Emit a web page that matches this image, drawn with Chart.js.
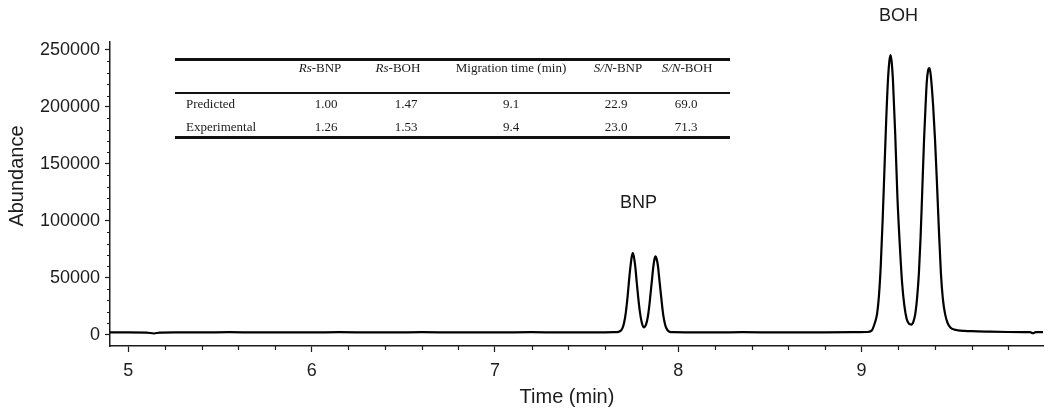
<!DOCTYPE html>
<html>
<head>
<meta charset="utf-8">
<script src="https://cdn.jsdelivr.net/npm/chart.js@4/dist/chart.umd.min.js"></script>
<style>
html, body { margin: 0; padding: 0; background: #fff; }
#wrap { position: relative; width: 1050px; height: 416px; }
#tbl { position: absolute; left: 0; top: 0; font-family: "Liberation Serif", "Times New Roman", serif; font-size: 13px; color: #1a1a1a; }
.rule { position: absolute; background: #111; }
.cell { position: absolute; white-space: nowrap; transform: translate(-50%, -50%); }
.lab { position: absolute; white-space: nowrap; transform: translateY(-50%); }
</style>
</head>
<body>
<div id="wrap">
  <canvas id="chart" width="1050" height="416"></canvas>
  <div id="tbl"></div>
</div>
<script>
// electropherogram trace
const times = [
  4.90, 5.00, 5.10, 5.14, 5.17, 5.25, 5.40, 5.55, 5.70, 5.85, 6.00, 6.15, 6.30, 6.45, 6.60, 6.75,
  6.90, 7.05, 7.20, 7.35, 7.50, 7.60, 7.650, 7.674, 7.689, 7.697, 7.704, 7.714, 7.724, 7.731,
  7.739, 7.746, 7.752, 7.758, 7.766, 7.773, 7.781, 7.791, 7.801, 7.812, 7.824, 7.834, 7.842,
  7.849, 7.857, 7.864, 7.870, 7.876, 7.882, 7.889, 7.896, 7.904, 7.912, 7.919, 7.927, 7.934,
  7.949, 7.975, 8.05, 8.20, 8.35, 8.50, 8.65, 8.80, 8.95, 9.03, 9.055, 9.072, 9.085, 9.095,
  9.105, 9.115, 9.125, 9.135, 9.145, 9.152, 9.158, 9.164, 9.171, 9.184, 9.196, 9.209, 9.221,
  9.234, 9.246, 9.259, 9.271, 9.283, 9.293, 9.303, 9.313, 9.322, 9.331, 9.341, 9.349, 9.356,
  9.363, 9.369, 9.375, 9.381, 9.391, 9.401, 9.411, 9.421, 9.433, 9.444, 9.456, 9.470, 9.486,
  9.505, 9.526, 9.56, 9.60, 9.70, 9.80, 9.88, 9.92, 9.935, 9.95, 9.99
];
const abundance = [
  1900, 1900, 1800, 1000, 1800, 2000, 1900, 2100, 1900, 2000, 1900, 2100, 2000, 1900, 2100, 2000,
  1900, 2000, 2100, 1900, 2000, 2000, 2100, 2400, 3900, 6200, 9900, 19400, 33800, 46500,
  59200, 68000, 71600, 68500, 59200, 47000, 33800, 19700, 10600, 6400, 8800, 15500, 25000,
  36000, 48500, 59500, 66000, 68700, 66500, 60700, 50000, 37600, 25500, 16400, 9800, 6000,
  2800, 2100, 2000, 1900, 2100, 2000, 1900, 2000, 2100, 2300, 3500, 10000, 18500, 34000,
  61000, 100000, 145000, 190000, 226000, 240500, 245600, 240000, 225000, 175000, 120000, 78000, 46000,
  25000, 14000, 9500, 8800, 11500, 18000, 32000, 54000, 85000, 125000, 171000, 200000, 222000,
  232000, 234000, 231000, 222000, 200000, 171000, 135000, 96000, 54000, 31000, 18000, 10000, 6000,
  4500, 3800, 3300, 3000, 2600, 2300, 2200, 2100, 1300, 2100, 2100
];

const xTicks = [5, 6, 7, 8, 9];
const yTicks = [0, 50000, 100000, 150000, 200000, 250000];

const peakNames = ["BNP", "BOH"];
const peakNameTime = [7.783, 9.202];
const peakNameValue = [116000, 280000];

// inset table
const tableHead = [["Rs", "-BNP"], ["Rs", "-BOH"], ["", "Migration time (min)"], ["S/N", "-BNP"], ["S/N", "-BOH"]];
const rowNames = ["Predicted", "Experimental"];
const predicted = ["1.00", "1.47", "9.1", "22.9", "69.0"];
const experimental = ["1.26", "1.53", "9.4", "23.0", "71.3"];

// build the table overlay
const tbl = document.getElementById("tbl");
const headX = [320, 398, 511, 618, 687];
const valX = [326, 406, 511, 616, 686];
const rowY = [104, 127];
function addRule(top, h) {
  const d = document.createElement("div");
  d.className = "rule";
  d.style.left = "175px"; d.style.width = "555px";
  d.style.top = top + "px"; d.style.height = h + "px";
  tbl.appendChild(d);
}
addRule(57.5, 3);
addRule(92, 1.5);
addRule(135.5, 3);
tableHead.forEach((h, i) => {
  const s = document.createElement("div");
  s.className = "cell";
  s.style.left = headX[i] + "px"; s.style.top = "68px";
  if (h[0]) { const em = document.createElement("i"); em.textContent = h[0]; s.appendChild(em); }
  s.appendChild(document.createTextNode(h[1]));
  tbl.appendChild(s);
});
[predicted, experimental].forEach((row, r) => {
  const n = document.createElement("div");
  n.className = "lab";
  n.style.left = "186px"; n.style.top = rowY[r] + "px";
  n.textContent = rowNames[r];
  tbl.appendChild(n);
  row.forEach((v, i) => {
    const c = document.createElement("div");
    c.className = "cell";
    c.style.left = valX[i] + "px"; c.style.top = rowY[r] + "px";
    c.textContent = v;
    tbl.appendChild(c);
  });
});

const ink = "#1c1c1c";
const sans = '"Liberation Sans", Arial, sans-serif';

// minor ticks (every 10000 on y, every 0.2 min on x)
const minorTicks = {
  id: "minorTicks",
  afterDraw(chart) {
    const { ctx, scales: { x, y } } = chart;
    ctx.save();
    ctx.strokeStyle = ink;
    ctx.lineWidth = 1.2;
    ctx.beginPath();
    for (let k = 1; k < 25; k++) {
      if (k % 5 === 0) continue;
      const py = Math.round(y.getPixelForValue(k * 10000)) + 0.5;
      ctx.moveTo(x.left - 3, py); ctx.lineTo(x.left, py);
    }
    for (let k = 26; k < 50; k++) {
      if (k % 5 === 0) continue;
      const px = Math.round(x.getPixelForValue(k / 5)) + 0.5;
      ctx.moveTo(px, y.bottom); ctx.lineTo(px, y.bottom + 4);
    }
    ctx.stroke();
    ctx.restore();
  }
};

// axis titles and peak names
const labels = {
  id: "labels",
  afterDraw(chart) {
    const { ctx, scales: { x, y } } = chart;
    ctx.save();
    ctx.fillStyle = ink;
    ctx.textAlign = "center";
    ctx.textBaseline = "middle";
    ctx.font = "20px " + sans;
    ctx.fillText("Time (min)", 567, 397);
    ctx.save();
    ctx.translate(17, 176);
    ctx.rotate(-Math.PI / 2);
    ctx.fillText("Abundance", 0, 0);
    ctx.restore();
    ctx.font = "18px " + sans;
    peakNames.forEach((n, i) => {
      ctx.fillText(n, x.getPixelForValue(peakNameTime[i]), y.getPixelForValue(peakNameValue[i]));
    });
    ctx.restore();
  }
};

new Chart(document.getElementById("chart"), {
  type: "line",
  data: {
    datasets: [{
      data: times.map((t, i) => ({ x: t, y: abundance[i] })),
      borderColor: "#000",
      borderWidth: 2.2,
      pointRadius: 0,
      cubicInterpolationMode: "monotone",
      fill: false,
    }],
  },
  options: {
    responsive: false,
    animation: false,
    devicePixelRatio: 1,
    layout: { padding: { top: 42, right: 7, left: 0, bottom: 0 } },
    plugins: { legend: { display: false }, tooltip: { enabled: false } },
    scales: {
      x: {
        type: "linear",
        min: 4.9,
        max: 9.99,
        afterFit: (s) => { s.height = 70; },
        afterBuildTicks: (s) => { s.ticks = xTicks.map((v) => ({ value: v })); },
        ticks: { font: { family: sans, size: 18 }, color: ink, padding: 8, maxRotation: 0, autoSkip: false,
                 callback: (v) => String(v) },
        grid: { drawOnChartArea: false, tickLength: 6, tickColor: ink, tickWidth: 1.2 },
        border: { color: ink, width: 1.5 },
      },
      y: {
        min: -10000,
        max: 257000,
        afterFit: (s) => { s.width = 110; },
        afterBuildTicks: (s) => { s.ticks = yTicks.map((v) => ({ value: v })); },
        ticks: { font: { family: sans, size: 18 }, color: ink, padding: 5, callback: (v) => String(v) },
        grid: { drawOnChartArea: false, tickLength: 5, tickColor: ink, tickWidth: 1.2 },
        border: { color: ink, width: 1.5 },
      },
    },
  },
  plugins: [minorTicks, labels],
});
</script>
</body>
</html>
